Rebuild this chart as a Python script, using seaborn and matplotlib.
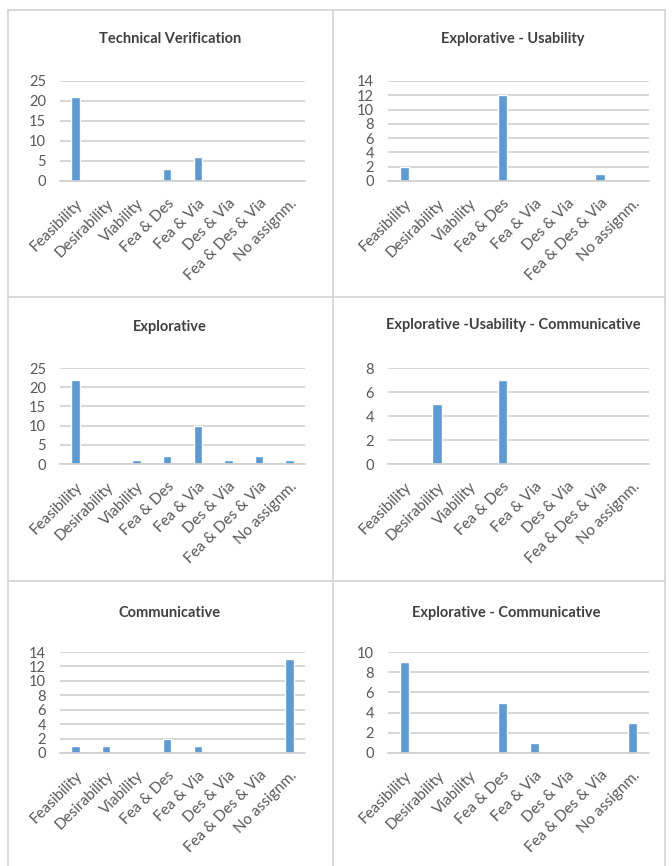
# ============================================
# PROTOTYPE CATEGORY ASSIGNMENTS - 6 PANELS
# ============================================

import numpy as np
import pandas as pd
import seaborn as sns
import matplotlib.pyplot as plt
from matplotlib.lines import Line2D

# ============================================
# DATA
# ============================================

categories = [
    "Feasibility", "Desirability", "Viability", "Fea & Des",
    "Fea & Via", "Des & Via", "Fea & Des & Via", "No assignm."
]

titles = [
    "Technical Verification",
    "Explorative - Usability",
    "Explorative",
    "Explorative -Usability - Communicative",
    "Communicative",
    "Explorative - Communicative",
]

technical_verification = [21, 0, 0, 3, 6, 0, 0, 0]
explorative_usability = [2, 0, 0, 12, 0, 0, 1, 0]
explorative = [22, 0, 1, 2, 10, 1, 2, 1]
explorative_usability_communicative = [0, 5, 0, 7, 0, 0, 0, 0]
communicative = [1, 1, 0, 2, 1, 0, 0, 13]
explorative_communicative = [9, 0, 0, 5, 1, 0, 0, 3]

series = [
    technical_verification,
    explorative_usability,
    explorative,
    explorative_usability_communicative,
    communicative,
    explorative_communicative,
]

y_max = [25, 14, 25, 8, 14, 10]
y_step = [5, 2, 5, 2, 2, 2]

# ============================================
# VISUAL THEME
# ============================================

BAR_BLUE = "#5B9BD5"
GRID_GREY = "#D0D0D0"
TEXT_GREY = "#595959"
BORDER_GREY = "#D4D4D4"

sns.set_theme(style="white")
plt.rcParams["font.family"] = ["Lato", "DejaVu Sans"]

W, H = 672, 866
fig = plt.figure(figsize=(W / 100, H / 100), dpi=100)
fig.patch.set_facecolor("white")

# axes boxes in pixels: (left, right, top gridline, zero line)
boxes = [
    (60, 305, 81, 181),
    (388, 649, 81, 181),
    (60, 305, 368, 464),
    (388, 649, 368, 464),
    (60, 305, 652, 753),
    (388, 649, 652, 753),
]

title_pos = [
    (170, 39), (513, 39),
    (170, 327), (513, 325),
    (170, 613), (506, 613),
]

# ============================================
# PANELS
# ============================================

for i, values in enumerate(series):
    x0, x1, yt, yb = boxes[i]
    ax = fig.add_axes([
        x0 / W,
        1 - yb / H,
        (x1 - x0) / W,
        (yb - yt) / H
    ])

    df = pd.DataFrame({"Category": categories, "Count": values})

    sns.barplot(
        data=df,
        x="Category",
        y="Count",
        order=categories,
        color=BAR_BLUE,
        saturation=1,
        width=0.28,
        ax=ax
    )

    ax.set_ylim(0, y_max[i])
    ax.set_yticks(np.arange(0, y_max[i] + 1, y_step[i]))
    ax.set_xlim(-0.5, len(categories) - 0.5)
    ax.yaxis.grid(True, color=GRID_GREY, linewidth=1.2)
    ax.set_axisbelow(True)

    for side in ["top", "right", "left"]:
        ax.spines[side].set_visible(False)
    ax.spines["bottom"].set_color(GRID_GREY)
    ax.spines["bottom"].set_linewidth(1.2)

    ax.set_xlabel("")
    ax.set_ylabel("")
    ax.tick_params(axis="both", length=0, colors=TEXT_GREY)
    ax.tick_params(axis="y", pad=10, labelsize=10.5)
    ax.tick_params(axis="x", pad=11, labelsize=11)
    plt.setp(
        ax.get_xticklabels(),
        rotation=45,
        ha="right",
        rotation_mode="anchor"
    )

    tx, ty = title_pos[i]
    fig.text(
        tx / W, 1 - ty / H, titles[i],
        ha="center", va="center",
        fontsize=10.5, fontweight="bold", color="#404040"
    )

# ============================================
# PANEL BORDERS
# ============================================

border_lines = [
    ((8, 8), (10, 866)),
    ((665, 665), (10, 866)),
    ((333, 333), (10, 866)),
    ((8, 665), (10, 10)),
    ((8, 665), (297, 297)),
    ((8, 665), (581, 581)),
]

for xs, ys in border_lines:
    fig.add_artist(Line2D(
        [x / W for x in xs],
        [1 - y / H for y in ys],
        color=BORDER_GREY,
        linewidth=1.2
    ))

plt.savefig("out.png", dpi=100)
plt.close()
